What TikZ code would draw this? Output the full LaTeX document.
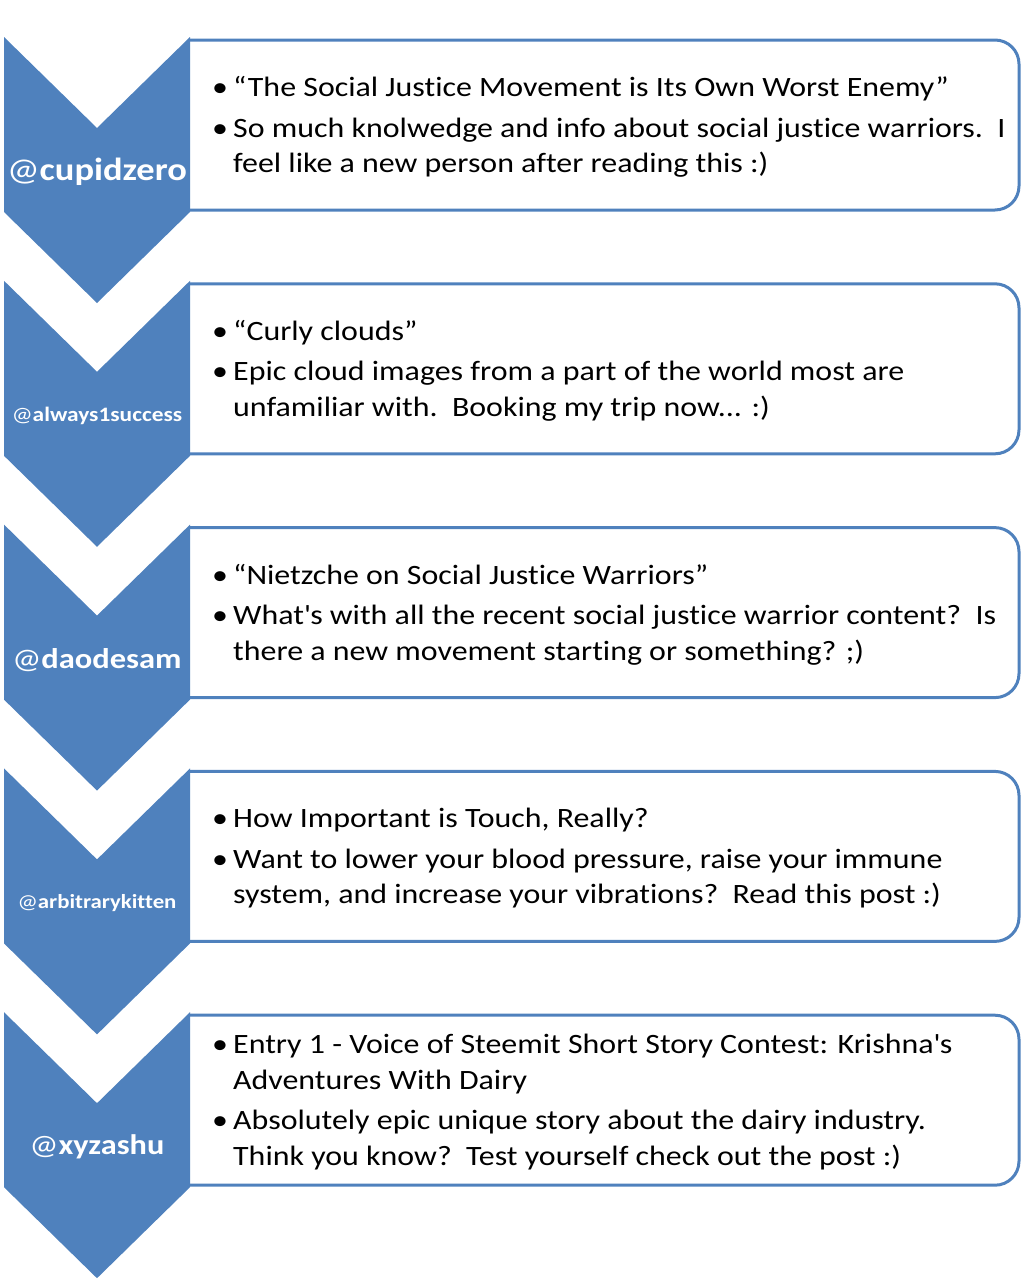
\documentclass[tikz,border=0pt]{standalone}
\usepackage{fontspec}
\setmainfont{Carlito}[FakeStretch=1.14, Ligatures={TeX,NoCommon}]
\definecolor{cblue}{HTML}{4F81BD}
\tikzset{
  chev/.style={fill=cblue, draw=none},
  card/.style={draw=cblue, line width=3pt, fill=white, rounded corners=24pt},
  handle/.style={text=white, font=\bfseries, inner sep=0pt, anchor=center},
  body/.style={anchor=west, inner sep=0pt, align=left, font=\fontsize{28}{35.5}\selectfont},
}
\newcommand{\bl}{\makebox[21pt][l]{\textbullet}}
\newcommand{\ind}{\hspace*{21pt}}
\newcommand{\at}{{\mdseries @}}
\newcommand{\ap}{\textquotesingle}
\begin{document}
\begin{tikzpicture}[x=1pt,y=-1pt]
\useasboundingbox (0,0) rectangle (1025,1280);
% --- 1
\begin{scope}[shift={(0,37)}]
  \draw[card] (190,3) -- (1019,3) -- (1019,173) -- (190,173);
  \fill[chev] (4,0) -- (97,91) -- (190,0) -- (190,175) -- (97,266) -- (4,175) -- cycle;
  \node[handle, font=\fontsize{32}{36}\selectfont\bfseries] (h1) at (97,135) {\at cupidzero};
  \node[body] (t1) at (212,90) {\bl``The Social Justice Movement is Its Own Worst Enemy''\\[5pt]
    \bl So much knolwedge and info about social justice warriors.\ \ I\\
    \ind feel like a new person after reading this :)};
\end{scope}
% --- 2
\begin{scope}[shift={(0,280.8)}]
  \draw[card] (190,3) -- (1019,3) -- (1019,173) -- (190,173);
  \fill[chev] (4,0) -- (97,91) -- (190,0) -- (190,175) -- (97,266) -- (4,175) -- cycle;
  \node[handle, font=\fontsize{20.5}{24}\selectfont\bfseries] (h2) at (97,135) {\at always1success};
  \node[body] (t2) at (212,90) {\bl``Curly clouds''\\[5pt]
    \bl Epic cloud images from a part of the world most are\\
    \ind unfamiliar with.\ \ Booking my trip now... :)};
\end{scope}
% --- 3
\begin{scope}[shift={(0,524.6)}]
  \draw[card] (190,3) -- (1019,3) -- (1019,173) -- (190,173);
  \fill[chev] (4,0) -- (97,91) -- (190,0) -- (190,175) -- (97,266) -- (4,175) -- cycle;
  \node[handle, font=\fontsize{28.5}{34}\selectfont\bfseries] (h3) at (97,135) {\at daodesam};
  \node[body] (t3) at (212,90) {\bl``Nietzche on Social Justice Warriors''\\[5pt]
    \bl What\ap s with all the recent social justice warrior content?\ \ Is\\
    \ind there a new movement starting or something? ;)};
\end{scope}
% --- 4
\begin{scope}[shift={(0,768.4)}]
  \draw[card] (190,3) -- (1019,3) -- (1019,173) -- (190,173);
  \fill[chev] (4,0) -- (97,91) -- (190,0) -- (190,175) -- (97,266) -- (4,175) -- cycle;
  \node[handle, font=\fontsize{20}{24}\selectfont\bfseries] (h4) at (97,135) {\at arbitrarykitten};
  \node[body] (t4) at (212,90) {\bl How Important is Touch, Really?\\[5pt]
    \bl Want to lower your blood pressure, raise your immune\\
    \ind system, and increase your vibrations?\ \ Read this post :)};
\end{scope}
% --- 5
\begin{scope}[shift={(0,1012.2)}]
  \draw[card] (190,3) -- (1019,3) -- (1019,173) -- (190,173);
  \fill[chev] (4,0) -- (97,91) -- (190,0) -- (190,175) -- (97,266) -- (4,175) -- cycle;
  \node[handle, font=\fontsize{28.3}{34}\selectfont\bfseries] (h5) at (97,135) {\at xyzashu};
  \node[body] (t5) at (212,90) {\bl Entry 1 - Voice of Steemit Short Story Contest: Krishna\ap s\\
    \ind Adventures With Dairy\\[5pt]
    \bl Absolutely epic unique story about the dairy industry.\\
    \ind Think you know?\ \ Test yourself check out the post :)};
\end{scope}
\end{tikzpicture}
\end{document}
